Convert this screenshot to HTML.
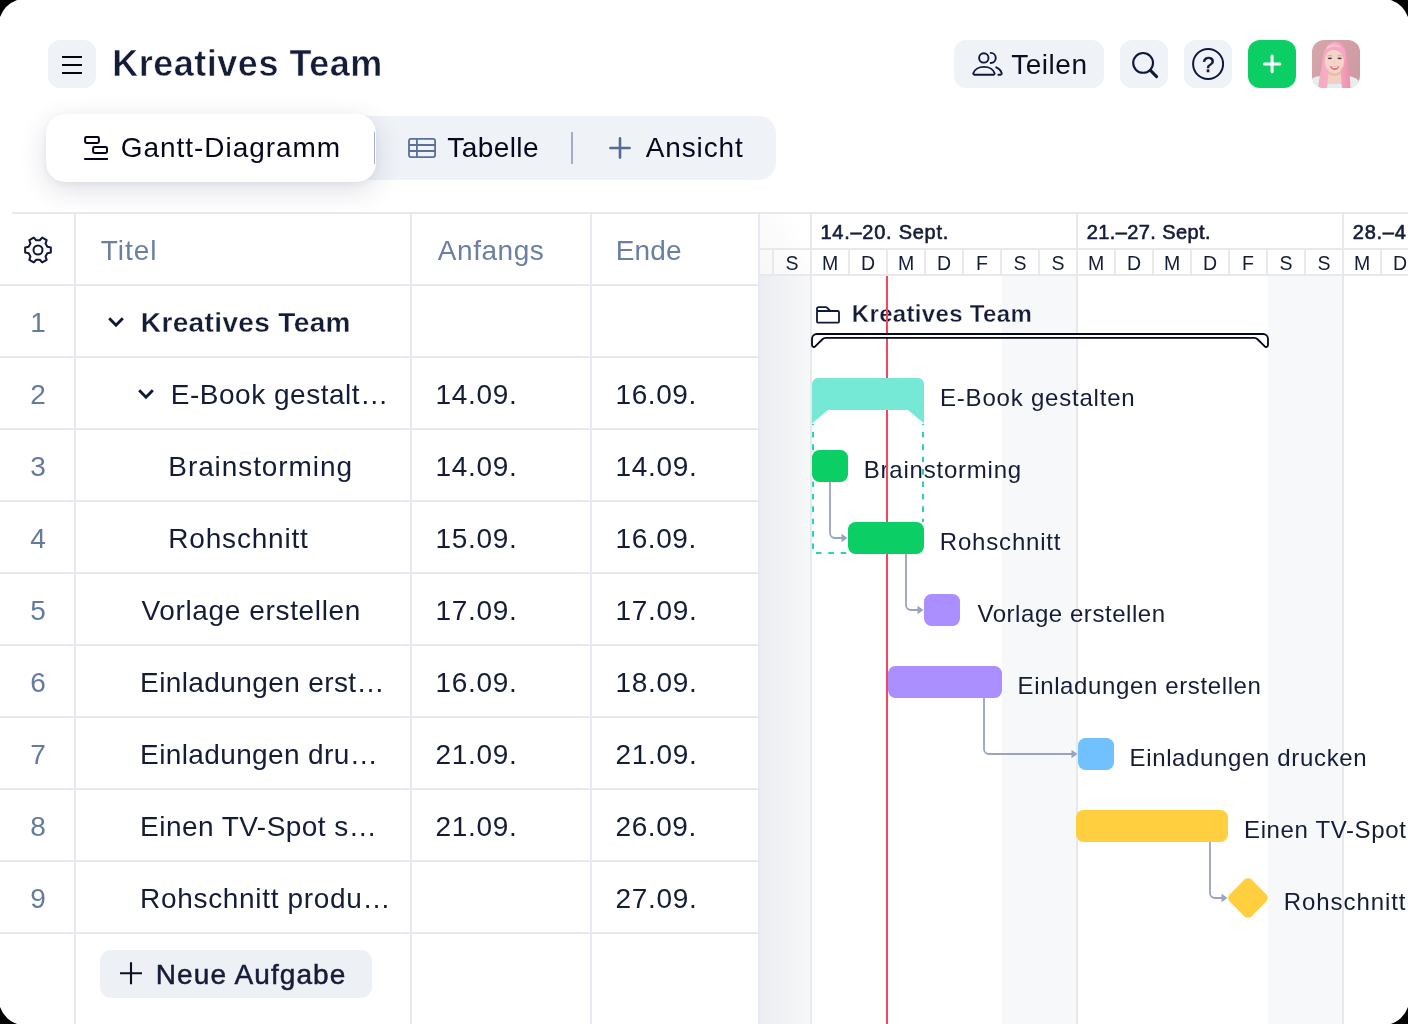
<!DOCTYPE html>
<html lang="de">
<head>
<meta charset="utf-8">
<title>Kreatives Team – Gantt-Diagramm</title>
<style>
html,body{margin:0;padding:0;background:#000;}
body{width:1408px;height:1024px;overflow:hidden;font-family:"Liberation Sans",sans-serif;}
.card{will-change:transform;position:relative;width:1408px;height:1024px;background:#fff;overflow:hidden;}
.b{position:absolute;display:block;}
.t{position:absolute;display:block;line-height:1;white-space:nowrap;font-family:"Liberation Sans",sans-serif;}
</style>
</head>
<body>
<div class="card">
<!-- header -->
<div class="b " style="left:48px;top:40px;width:48px;height:48px;background:#eff2f7;border-radius:12px;"></div>
<svg class="b" style="left:48px;top:40px;" width="48" height="48" viewBox="48 40 48 48" fill="none"><path d="M62 57H82M62 65H82M62 73H82" stroke="#05060a" stroke-width="2.1"/></svg>
<span class="t " style="left:112.30px;top:46.00px;font-size:36px;letter-spacing:0.5px;font-weight:700;color:#141c37;-webkit-text-stroke:0.55px #fff;">Kreatives Team</span>
<div class="b " style="left:954px;top:40px;width:150px;height:48px;background:#eff2f7;border-radius:12px;"></div>
<svg class="b" style="left:954px;top:40px;" width="150" height="48" viewBox="954 40 150 48" fill="none"><g stroke="#10183a" stroke-width="1.9" stroke-linecap="round" stroke-linejoin="round"><circle cx="983.8" cy="57.9" r="4.7"/><path d="M974.4 74.7h19.1a1.1 1.1 0 0 0 1.1-1.4c-1-3.7-5.2-6.4-10.6-6.4s-9.6 2.7-10.7 6.4a1.1 1.1 0 0 0 1.1 1.4z"/><path d="M990.7 52.9a5.05 5.05 0 0 1 0 10.1"/><path d="M996.2 67.3c2.9 1.2 4.9 3.4 5.5 6a1.1 1.1 0 0 1-1.1 1.4h-2.2"/></g></svg>
<span class="t " style="left:1011.20px;top:51.00px;font-size:28px;letter-spacing:0.54px;font-weight:400;color:#0c0f1f;">Teilen</span>
<div class="b " style="left:1120px;top:40px;width:48px;height:48px;background:#eff2f7;border-radius:12px;"></div>
<svg class="b" style="left:1120px;top:40px;" width="48" height="48" viewBox="1120 40 48 48" fill="none"><g stroke="#10183a" stroke-width="2.1" stroke-linecap="round"><circle cx="1143.1" cy="62.9" r="9.9"/><path d="M1150.400 70.400L1156.600 76.600" stroke-width="3"/></g></svg>
<div class="b " style="left:1184px;top:40px;width:48px;height:48px;background:#eff2f7;border-radius:12px;"></div>
<svg class="b" style="left:1184px;top:40px;" width="48" height="48" viewBox="1184 40 48 48" fill="none"><circle cx="1208.1" cy="64" r="15" stroke="#10183a" stroke-width="2"/></svg>
<span class="t" style="left:1202.200px;top:54px;font-size:22px;color:#10183a;-webkit-text-stroke:0.55px #10183a;">?</span>
<div class="b " style="left:1248px;top:40px;width:48px;height:48px;background:#0bcf65;border-radius:12px;"></div>
<svg class="b" style="left:1248px;top:40px;" width="48" height="48" viewBox="1248 40 48 48" fill="none"><path d="M1272.100 56.100V71.700M1264.300 63.900H1279.900" stroke="#fff" stroke-width="3" stroke-linecap="round"/></svg>
<svg class="b" style="left:1312px;top:40px;border-radius:12px;" width="48" height="48" viewBox="0 0 48 48">
<defs><filter id="bl" x="-20%" y="-20%" width="140%" height="140%"><feGaussianBlur stdDeviation="0.65"/></filter>
<linearGradient id="abg" x1="0" y1="0" x2="1" y2="0.6"><stop offset="0" stop-color="#d5a6ab"/><stop offset="1" stop-color="#cf9ba2"/></linearGradient>
<linearGradient id="ahr" x1="0" y1="0" x2="1" y2="0"><stop offset="0" stop-color="#f7a9c2"/><stop offset="0.5" stop-color="#f6b0c6"/><stop offset="1" stop-color="#ec8fae"/></linearGradient></defs>
<rect width="48" height="48" fill="url(#abg)"/>
<g filter="url(#bl)">
<path d="M0 38.500c2.500-1.700 6-2.500 9.500-2.500l2 12H0z" fill="#e4eeec"/>
<path d="M35 36c4 .2 8.500 1.500 11.500 4.500l1.500 7.500H34z" fill="#e6efee"/>
<path d="M6.200 48c.6-6 1.600-13 3-19 .8-4 1-8 1.600-11.500C12 9 16.500 2 23.500 2c6.500 0 10 5 11 12 .6 4.500 1 8.500 1.900 13 1 7 2 14 2 21z" fill="url(#ahr)"/>
<path d="M15.500 44c2.500-1.200 5-1.600 7.500-1.600s4.800.5 6.600 1.600l.4 4H15z" fill="#e2eeee"/>
<path d="M16.800 29.500h11.800l.9 13.600c-4 1.400-9.300 1.400-13.800-.2z" fill="#f2cfc1"/>
<path d="M16.600 31c3.500 3.200 8.500 3.200 12 0l.1 3c-3.600 2.400-8.600 2.400-12.200 0z" fill="#e3b3a6" opacity=".7"/>
<ellipse cx="22.400" cy="21" rx="9.700" ry="11.900" fill="#f5d5c8"/>
<path d="M11.300 25c-1-7-.3-12.500 2.300-16.500C15.800 5.200 19 3.600 23.500 3.600c5.500 0 9 4 10 10 .5 3.500.3 7-.3 10.500-.8-5.500-2.700-10-6-12.300-3.500-2.300-8.300-2.600-11.200-.3-2.600 2.100-4 7-4.700 13.500z" fill="#f6a7c1"/>
<path d="M15 6.500c2.500-2 6-2.600 9-2 2.500.6 4.500 2 5.700 4-3-1.700-6.200-2-9-1.500-2.300.4-4.200 1.300-5.700 3z" fill="#f9c4d4" opacity=".8"/>
<path d="M17.900 26.100c3 1 6.400 1 9.400-.2-.6 2.800-2.500 4-4.700 4s-4.100-1.300-4.700-3.800z" fill="#d9667a"/>
<path d="M19.300 26.600c2.200.6 4.700.6 6.800 0-.5 1.100-1.800 1.600-3.400 1.600s-2.900-.5-3.400-1.600z" fill="#fdf6f4"/>
<ellipse cx="17.900" cy="18.300" rx="2.100" ry=".85" fill="#4c3f40"/><ellipse cx="27.600" cy="18.300" rx="2.100" ry=".85" fill="#4c3f40"/>
<path d="M15.300 16.200c1.500-.8 3.500-.8 5 0M25.200 16.200c1.500-.8 3.500-.8 5 0" stroke="#b98f84" stroke-width=".6" fill="none"/>
<path d="M21.800 21.500c-.3 1 .2 1.600 1.100 1.700" stroke="#dcae9f" stroke-width=".6" fill="none"/>
</g></svg>
<!-- tabs -->
<div class="b " style="left:46px;top:116px;width:730px;height:64px;background:#eff2f7;border-radius:17px;"></div>
<div class="b " style="left:46px;top:114px;width:330px;height:68px;background:#fff;border-radius:19px;box-shadow:0 8px 28px rgba(30,38,80,.14),0 2px 6px rgba(30,38,80,.05);"></div>
<div class="b " style="left:373.5px;top:132px;width:1.6px;height:32px;background:#a2adca;border-radius:0px;"></div>
<div class="b " style="left:571.3px;top:132px;width:1.6px;height:32px;background:#a2adca;border-radius:0px;"></div>
<svg class="b" style="left:80px;top:130px;" width="32" height="36" viewBox="80 130 32 36" fill="none"><g stroke="#04041a" stroke-width="2"><rect x="85.100" y="137.100" width="13.800" height="5.800" rx="1.400"/><rect x="93.100" y="147.100" width="13.900" height="5.800" rx="1.400"/><path d="M84.200 159H107.900"/></g></svg>
<span class="t " style="left:120.80px;top:134.00px;font-size:28px;letter-spacing:0.949px;font-weight:400;color:#07081d;">Gantt-Diagramm</span>
<svg class="b" style="left:404px;top:134px;" width="36" height="28" viewBox="404 134 36 28" fill="none"><g stroke="#5b7098" stroke-width="1.800"><rect x="409" y="138.800" width="26.100" height="18.300" rx="2"/><path d="M409 145H435.100M409 151H435.100M416.900 138.800V157.100"/></g></svg>
<span class="t " style="left:447.30px;top:134.00px;font-size:28px;letter-spacing:0.427px;font-weight:400;color:#07081d;">Tabelle</span>
<svg class="b" style="left:606px;top:134px;" width="28" height="28" viewBox="606 134 28 28" fill="none"><path d="M620 138.400V157.600M610.400 148H629.600" stroke="#566b93" stroke-width="2.600" stroke-linecap="round"/></svg>
<span class="t " style="left:645.80px;top:134.00px;font-size:28px;letter-spacing:0.847px;font-weight:400;color:#07081d;">Ansicht</span>
<!-- table -->
<div class="b " style="left:12px;top:212px;width:1396px;height:2px;background:#e9e9ed;border-radius:0px;"></div>
<div class="b " style="left:74px;top:214px;width:2px;height:810px;background:#e6e8f3;border-radius:0px;"></div>
<div class="b " style="left:410px;top:214px;width:2px;height:810px;background:#e6e8f3;border-radius:0px;"></div>
<div class="b " style="left:590px;top:214px;width:2px;height:810px;background:#e6e8f3;border-radius:0px;"></div>
<div class="b " style="left:758px;top:214px;width:2px;height:810px;background:#e6e8f3;border-radius:0px;"></div>
<div class="b " style="left:0px;top:284px;width:759px;height:2px;background:#e6e8f3;border-radius:0px;"></div>
<div class="b " style="left:0px;top:356px;width:759px;height:2px;background:#e6e8f3;border-radius:0px;"></div>
<div class="b " style="left:0px;top:428px;width:759px;height:2px;background:#e6e8f3;border-radius:0px;"></div>
<div class="b " style="left:0px;top:500px;width:759px;height:2px;background:#e6e8f3;border-radius:0px;"></div>
<div class="b " style="left:0px;top:572px;width:759px;height:2px;background:#e6e8f3;border-radius:0px;"></div>
<div class="b " style="left:0px;top:644px;width:759px;height:2px;background:#e6e8f3;border-radius:0px;"></div>
<div class="b " style="left:0px;top:716px;width:759px;height:2px;background:#e6e8f3;border-radius:0px;"></div>
<div class="b " style="left:0px;top:788px;width:759px;height:2px;background:#e6e8f3;border-radius:0px;"></div>
<div class="b " style="left:0px;top:860px;width:759px;height:2px;background:#e6e8f3;border-radius:0px;"></div>
<div class="b " style="left:0px;top:932px;width:759px;height:2px;background:#e6e8f3;border-radius:0px;"></div>
<svg class="b" style="left:20px;top:232px;" width="36" height="36" viewBox="20 232 36 36" fill="none"><g stroke="#10183a" stroke-width="2" stroke-linejoin="round"><path d="M47.33 246.70L50.84 247.40L50.84 252.60L47.33 253.30L45.53 256.43L46.67 259.82L42.17 262.42L39.81 259.73L36.19 259.73L33.83 262.42L29.33 259.82L30.47 256.43L28.67 253.30L25.16 252.60L25.16 247.40L28.67 246.70L30.47 243.57L29.33 240.18L33.83 237.58L36.19 240.27L39.81 240.27L42.17 237.58L46.67 240.18L45.53 243.57Z"/><circle cx="38" cy="250" r="4.5"/></g></svg>
<span class="t " style="left:100.80px;top:237.00px;font-size:28px;letter-spacing:0.975px;font-weight:400;color:#6b7fa4;">Titel</span>
<span class="t " style="left:437.80px;top:237.00px;font-size:28px;letter-spacing:0.547px;font-weight:400;color:#6b7fa4;">Anfangs</span>
<span class="t " style="left:615.80px;top:237.00px;font-size:28px;letter-spacing:0.103px;font-weight:400;color:#6b7fa4;">Ende</span>
<span class="t" style="left:1px;width:74px;text-align:center;top:309px;font-size:28px;color:#667a9f;">1</span>
<span class="t " style="left:140.80px;top:309.00px;font-size:28px;letter-spacing:0.369px;font-weight:700;color:#141c37;-webkit-text-stroke:0.3px #fff;">Kreatives Team</span>
<span class="t" style="left:1px;width:74px;text-align:center;top:381px;font-size:28px;color:#667a9f;">2</span>
<span class="t " style="left:170.80px;top:381.00px;font-size:28px;letter-spacing:0.519px;font-weight:400;color:#141c37;">E-Book gestalt…</span>
<span class="t " style="left:435.55px;top:381.00px;font-size:28px;letter-spacing:0.66px;font-weight:400;color:#141c37;">14.09.</span>
<span class="t " style="left:615.55px;top:381.00px;font-size:28px;letter-spacing:0.56px;font-weight:400;color:#141c37;">16.09.</span>
<span class="t" style="left:1px;width:74px;text-align:center;top:453px;font-size:28px;color:#667a9f;">3</span>
<span class="t " style="left:168.30px;top:453.00px;font-size:28px;letter-spacing:0.918px;font-weight:400;color:#141c37;">Brainstorming</span>
<span class="t " style="left:435.55px;top:453.00px;font-size:28px;letter-spacing:0.66px;font-weight:400;color:#141c37;">14.09.</span>
<span class="t " style="left:615.55px;top:453.00px;font-size:28px;letter-spacing:0.66px;font-weight:400;color:#141c37;">14.09.</span>
<span class="t" style="left:1px;width:74px;text-align:center;top:525px;font-size:28px;color:#667a9f;">4</span>
<span class="t " style="left:168.30px;top:525.00px;font-size:28px;letter-spacing:0.811px;font-weight:400;color:#141c37;">Rohschnitt</span>
<span class="t " style="left:435.55px;top:525.00px;font-size:28px;letter-spacing:0.66px;font-weight:400;color:#141c37;">15.09.</span>
<span class="t " style="left:615.55px;top:525.00px;font-size:28px;letter-spacing:0.56px;font-weight:400;color:#141c37;">16.09.</span>
<span class="t" style="left:1px;width:74px;text-align:center;top:597px;font-size:28px;color:#667a9f;">5</span>
<span class="t " style="left:141.45px;top:597.00px;font-size:28px;letter-spacing:0.644px;font-weight:400;color:#141c37;">Vorlage erstellen</span>
<span class="t " style="left:435.55px;top:597.00px;font-size:28px;letter-spacing:0.66px;font-weight:400;color:#141c37;">17.09.</span>
<span class="t " style="left:615.55px;top:597.00px;font-size:28px;letter-spacing:0.66px;font-weight:400;color:#141c37;">17.09.</span>
<span class="t" style="left:1px;width:74px;text-align:center;top:669px;font-size:28px;color:#667a9f;">6</span>
<span class="t " style="left:140.10px;top:669.00px;font-size:28px;letter-spacing:0.394px;font-weight:400;color:#141c37;">Einladungen erst…</span>
<span class="t " style="left:435.55px;top:669.00px;font-size:28px;letter-spacing:0.66px;font-weight:400;color:#141c37;">16.09.</span>
<span class="t " style="left:615.55px;top:669.00px;font-size:28px;letter-spacing:0.66px;font-weight:400;color:#141c37;">18.09.</span>
<span class="t" style="left:1px;width:74px;text-align:center;top:741px;font-size:28px;color:#667a9f;">7</span>
<span class="t " style="left:140.10px;top:741.00px;font-size:28px;letter-spacing:0.377px;font-weight:400;color:#141c37;">Einladungen dru…</span>
<span class="t " style="left:435.55px;top:741.00px;font-size:28px;letter-spacing:0.66px;font-weight:400;color:#141c37;">21.09.</span>
<span class="t " style="left:615.55px;top:741.00px;font-size:28px;letter-spacing:0.66px;font-weight:400;color:#141c37;">21.09.</span>
<span class="t" style="left:1px;width:74px;text-align:center;top:813px;font-size:28px;color:#667a9f;">8</span>
<span class="t " style="left:140.10px;top:813.00px;font-size:28px;letter-spacing:0.457px;font-weight:400;color:#141c37;">Einen TV-Spot s…</span>
<span class="t " style="left:435.55px;top:813.00px;font-size:28px;letter-spacing:0.66px;font-weight:400;color:#141c37;">21.09.</span>
<span class="t " style="left:615.55px;top:813.00px;font-size:28px;letter-spacing:0.56px;font-weight:400;color:#141c37;">26.09.</span>
<span class="t" style="left:1px;width:74px;text-align:center;top:885px;font-size:28px;color:#667a9f;">9</span>
<span class="t " style="left:140.10px;top:885.00px;font-size:28px;letter-spacing:0.674px;font-weight:400;color:#141c37;">Rohschnitt produ…</span>
<span class="t " style="left:615.55px;top:885.00px;font-size:28px;letter-spacing:0.66px;font-weight:400;color:#141c37;">27.09.</span>
<svg class="b" style="left:104px;top:312px;" width="24" height="20" viewBox="104 312 24 20" fill="none"><path d="M109.200 318.200L116 325.200L122.800 318.200" stroke="#10183a" stroke-width="2.900"/></svg>
<svg class="b" style="left:134px;top:384px;" width="24" height="20" viewBox="134 384 24 20" fill="none"><path d="M139.200 390.200L146 397.200L152.800 390.200" stroke="#10183a" stroke-width="2.900"/></svg>
<div class="b " style="left:100px;top:950px;width:272px;height:48px;background:#edf0f5;border-radius:11px;"></div>
<svg class="b" style="left:116px;top:960px;" width="30" height="28" viewBox="116 960 30 28" fill="none"><path d="M131 962.300V984.300M120 973.300H142" stroke="#0c0f1f" stroke-width="2.100"/></svg>
<span class="t " style="left:155.80px;top:961.00px;font-size:28px;letter-spacing:1.095px;font-weight:400;color:#141c37;-webkit-text-stroke:0.5px #141c37;">Neue Aufgabe</span>
<!-- gantt -->
<div class="b " style="left:760px;top:276px;width:50px;height:748px;background:#f7f8fa;border-radius:0px;"></div>
<div class="b " style="left:1002px;top:276px;width:74px;height:748px;background:#f7f8fa;border-radius:0px;"></div>
<div class="b " style="left:1268px;top:276px;width:74px;height:748px;background:#f7f8fa;border-radius:0px;"></div>
<div class="b " style="left:760px;top:276px;width:52px;height:748px;background:linear-gradient(90deg,rgba(30,36,60,.05),rgba(30,36,60,.016) 70%,rgba(30,36,60,0));border-radius:0px;"></div>
<div class="b " style="left:760px;top:214px;width:51px;height:60px;background:linear-gradient(60deg,rgba(30,36,60,.035),rgba(30,36,60,.01) 55%,rgba(30,36,60,0) 80%);border-radius:0px;"></div>
<div class="b " style="left:760px;top:248px;width:648px;height:2px;background:#e9e9ec;border-radius:0px;"></div>
<div class="b " style="left:760px;top:274px;width:648px;height:2px;background:#e9e9ec;border-radius:0px;"></div>
<div class="b " style="left:810px;top:214px;width:2px;height:810px;background:#e9e9ec;border-radius:0px;"></div>
<div class="b " style="left:1076px;top:214px;width:2px;height:810px;background:#e9e9ec;border-radius:0px;"></div>
<div class="b " style="left:1342px;top:214px;width:2px;height:810px;background:#e9e9ec;border-radius:0px;"></div>
<div class="b " style="left:772px;top:250px;width:2px;height:24px;background:#e9e9ec;border-radius:0px;"></div>
<div class="b " style="left:848px;top:250px;width:2px;height:24px;background:#e9e9ec;border-radius:0px;"></div>
<div class="b " style="left:886px;top:250px;width:2px;height:24px;background:#e9e9ec;border-radius:0px;"></div>
<div class="b " style="left:924px;top:250px;width:2px;height:24px;background:#e9e9ec;border-radius:0px;"></div>
<div class="b " style="left:962px;top:250px;width:2px;height:24px;background:#e9e9ec;border-radius:0px;"></div>
<div class="b " style="left:1000px;top:250px;width:2px;height:24px;background:#e9e9ec;border-radius:0px;"></div>
<div class="b " style="left:1038px;top:250px;width:2px;height:24px;background:#e9e9ec;border-radius:0px;"></div>
<div class="b " style="left:1114px;top:250px;width:2px;height:24px;background:#e9e9ec;border-radius:0px;"></div>
<div class="b " style="left:1152px;top:250px;width:2px;height:24px;background:#e9e9ec;border-radius:0px;"></div>
<div class="b " style="left:1190px;top:250px;width:2px;height:24px;background:#e9e9ec;border-radius:0px;"></div>
<div class="b " style="left:1228px;top:250px;width:2px;height:24px;background:#e9e9ec;border-radius:0px;"></div>
<div class="b " style="left:1266px;top:250px;width:2px;height:24px;background:#e9e9ec;border-radius:0px;"></div>
<div class="b " style="left:1304px;top:250px;width:2px;height:24px;background:#e9e9ec;border-radius:0px;"></div>
<div class="b " style="left:1380px;top:250px;width:2px;height:24px;background:#e9e9ec;border-radius:0px;"></div>
<span class="t " style="left:820.45px;top:222.00px;font-size:20px;letter-spacing:0.738px;font-weight:400;color:#141c37;-webkit-text-stroke:0.6px #141c37;">14.–20. Sept.</span>
<span class="t " style="left:1086.80px;top:222.00px;font-size:20px;letter-spacing:0.398px;font-weight:400;color:#141c37;-webkit-text-stroke:0.6px #141c37;">21.–27. Sept.</span>
<span class="t " style="left:1352.80px;top:222.00px;font-size:20px;letter-spacing:0.73px;font-weight:400;color:#141c37;-webkit-text-stroke:0.6px #141c37;">28.–4. Okt.</span>
<span class="t" style="left:773px;width:38px;text-align:center;top:254px;font-size:19.5px;color:#141c37;">S</span>
<span class="t" style="left:811px;width:38px;text-align:center;top:254px;font-size:19.5px;color:#141c37;">M</span>
<span class="t" style="left:849px;width:38px;text-align:center;top:254px;font-size:19.5px;color:#141c37;">D</span>
<span class="t" style="left:887px;width:38px;text-align:center;top:254px;font-size:19.5px;color:#141c37;">M</span>
<span class="t" style="left:925px;width:38px;text-align:center;top:254px;font-size:19.5px;color:#141c37;">D</span>
<span class="t" style="left:963px;width:38px;text-align:center;top:254px;font-size:19.5px;color:#141c37;">F</span>
<span class="t" style="left:1001px;width:38px;text-align:center;top:254px;font-size:19.5px;color:#141c37;">S</span>
<span class="t" style="left:1039px;width:38px;text-align:center;top:254px;font-size:19.5px;color:#141c37;">S</span>
<span class="t" style="left:1077px;width:38px;text-align:center;top:254px;font-size:19.5px;color:#141c37;">M</span>
<span class="t" style="left:1115px;width:38px;text-align:center;top:254px;font-size:19.5px;color:#141c37;">D</span>
<span class="t" style="left:1153px;width:38px;text-align:center;top:254px;font-size:19.5px;color:#141c37;">M</span>
<span class="t" style="left:1191px;width:38px;text-align:center;top:254px;font-size:19.5px;color:#141c37;">D</span>
<span class="t" style="left:1229px;width:38px;text-align:center;top:254px;font-size:19.5px;color:#141c37;">F</span>
<span class="t" style="left:1267px;width:38px;text-align:center;top:254px;font-size:19.5px;color:#141c37;">S</span>
<span class="t" style="left:1305px;width:38px;text-align:center;top:254px;font-size:19.5px;color:#141c37;">S</span>
<span class="t" style="left:1343px;width:38px;text-align:center;top:254px;font-size:19.5px;color:#141c37;">M</span>
<span class="t" style="left:1381px;width:38px;text-align:center;top:254px;font-size:19.5px;color:#141c37;">D</span>
<span class="t " style="left:851.80px;top:302.00px;font-size:24px;letter-spacing:0.329px;font-weight:700;color:#141c37;-webkit-text-stroke:0.3px #fff;">Kreatives Team</span>
<span class="t " style="left:940.05px;top:386.00px;font-size:24px;letter-spacing:0.787px;font-weight:400;color:#141c37;">E-Book gestalten</span>
<span class="t " style="left:863.80px;top:458.00px;font-size:24px;letter-spacing:0.778px;font-weight:400;color:#141c37;">Brainstorming</span>
<span class="t " style="left:939.80px;top:530.00px;font-size:24px;letter-spacing:0.811px;font-weight:400;color:#141c37;">Rohschnitt</span>
<span class="t " style="left:977.45px;top:602.00px;font-size:24px;letter-spacing:0.554px;font-weight:400;color:#141c37;">Vorlage erstellen</span>
<span class="t " style="left:1017.60px;top:674.00px;font-size:24px;letter-spacing:0.625px;font-weight:400;color:#141c37;">Einladungen erstellen</span>
<span class="t " style="left:1129.50px;top:746.00px;font-size:24px;letter-spacing:0.646px;font-weight:400;color:#141c37;">Einladungen drucken</span>
<span class="t " style="left:1244.00px;top:818.00px;font-size:24px;letter-spacing:0.629px;font-weight:400;color:#141c37;">Einen TV-Spot schalten</span>
<span class="t " style="left:1283.80px;top:890.00px;font-size:24px;letter-spacing:0.919px;font-weight:400;color:#141c37;">Rohschnitt produzieren</span>
<svg class="b" style="left:760px;top:276px;" width="648" height="748" viewBox="760 276 648 748" fill="none"><g stroke="#10183a" stroke-width="1.8" stroke-linejoin="round"><rect x="817" y="311" width="22" height="11.700" rx="1.300"/><path d="M817 311.500V308.700a1.600 1.600 0 0 1 1.600-1.600h7.200a1.600 1.600 0 0 1 1.200.500l3.300 3.400"/></g><rect x="886" y="276" width="2" height="748" fill="#f4455c"/><path d="M817 334H1263A5 5 0 0 1 1268 339V345.100A1.900 1.900 0 0 1 1264.760 346.440L1257.550 339.250A4.600 4.600 0 0 0 1254.300 337.900H825.700A4.600 4.600 0 0 0 822.450 339.250L815.240 346.440A1.900 1.900 0 0 1 812 345.100V339A5 5 0 0 1 817 334Z" fill="#fff" stroke="#05061f" stroke-width="1.800" stroke-linejoin="round"/><path d="M818 378H918a6 6 0 0 1 6 6V423.500L908 410H828L812 423.500V384a6 6 0 0 1 6-6z" fill="#76e9d6"/><path d="M813 424V553H848" stroke="#25d2c3" stroke-width="2" stroke-dasharray="5.600 6.800" stroke-dashoffset="-7.900"/><path d="M923 424V522" stroke="#25d2c3" stroke-width="2" stroke-dasharray="5.600 6.800" stroke-dashoffset="-7.900"/><path d="M830 482V533a5 5 0 0 0 5 5H843" stroke="#99a4c0" stroke-width="1.800"/><path d="M841.5 533.8L847.5 538L841.5 542.2z" fill="#99a4c0"/><path d="M906 554V605a5 5 0 0 0 5 5H919" stroke="#99a4c0" stroke-width="1.800"/><path d="M917.5 605.8L923.5 610L917.5 614.2z" fill="#99a4c0"/><path d="M984 698V749a5 5 0 0 0 5 5H1073" stroke="#99a4c0" stroke-width="1.800"/><path d="M1071.5 749.8L1077.5 754L1071.5 758.2z" fill="#99a4c0"/><path d="M1210 842V893a5 5 0 0 0 5 5H1223" stroke="#99a4c0" stroke-width="1.800"/><path d="M1221.5 893.8L1227.5 898L1221.5 902.2z" fill="#99a4c0"/><rect x="812" y="450" width="36" height="32" rx="7.5" fill="#0bcf65"/><rect x="848" y="522" width="76" height="32" rx="7.5" fill="#0bcf65"/><rect x="924" y="594" width="36" height="32" rx="7.5" fill="#ab8eff"/><rect x="888" y="666" width="114" height="32" rx="7.5" fill="#ab8eff"/><rect x="1078" y="738" width="36" height="32" rx="7.5" fill="#72c1ff"/><rect x="1076" y="810" width="152" height="32" rx="7.5" fill="#ffcf3f"/><rect x="1232.5" y="882.5" width="31" height="31" rx="5" transform="rotate(45 1248 898)" fill="#ffcf3f"/></svg>
<!-- rounded screenshot corners -->
<svg class="b" style="left:0;top:0;z-index:50" width="1408" height="1024" viewBox="0 0 1408 1024"><g fill="#000"><path d="M0 0H17.100A28.7 28.7 0 0 0 0 17.100Z"/><path d="M1408 0V17.100A28.7 28.7 0 0 0 1390.900 0Z"/><path d="M1408 1024H1390.900A28.7 28.7 0 0 0 1408 1006.900Z"/><path d="M0 1024V1006.900A28.7 28.7 0 0 0 17.100 1024Z"/></g></svg>
</div>
</body>
</html>
